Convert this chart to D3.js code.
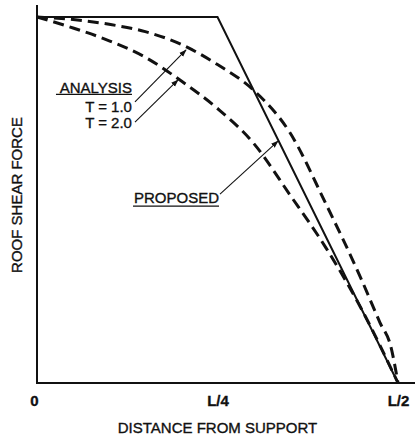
<!DOCTYPE html>
<html>
<head>
<meta charset="utf-8">
<script src="https://cdn.jsdelivr.net/npm/d3@7"></script>
<style>
    body { margin: 0; background: #fff; }
    text { font-family: "Liberation Sans", Arial, Helvetica, sans-serif; fill: #111; stroke: #111; stroke-width: 0.35; }
</style>
</head>
<body>
<svg id="chart" width="415" height="441"></svg>
<script>
// Distance from support, in units of L
var proposedX = [0, 0.25, 0.5];
var proposedY = [1, 1, 0];

var t1X = [0, 0.05, 0.1, 0.15, 0.2, 0.25, 0.3, 0.35, 0.4, 0.45, 0.475, 0.49, 0.5];
var t1Y = [1, 0.993, 0.98, 0.96, 0.925, 0.87, 0.80, 0.685, 0.49, 0.28, 0.165, 0.10, 0];

var t2X = [0, 0.05, 0.1, 0.15, 0.2, 0.25, 0.3, 0.35, 0.4, 0.45, 0.5];
var t2Y = [1, 0.97, 0.935, 0.89, 0.825, 0.75, 0.655, 0.515, 0.37, 0.2, 0];

var tickValues = [0, 0.25, 0.5];
var tickLabels = ['0', 'L/4', 'L/2'];

// Annotation arrows: start / end in data units
var notes = [
    { from: [0.1357, 0.768], to: [0.2064, 0.91] },
    { from: [0.1357, 0.713], to: [0.1953, 0.828] },
    { from: [0.2535, 0.516], to: [0.3338, 0.661] }
];

function zip(xs, ys) {
    var result = [];
    for (var i = 0; i < xs.length; i++) result.push([xs[i], ys[i]]);
    return result;
}

function draw() {
    var svg = d3.select('#chart');
    var x = d3.scaleLinear().domain([0, 0.5]).range([37, 398]);
    var y = d3.scaleLinear().domain([0, 1]).range([383, 17]);

    // Arrow head
    svg.append('defs').append('marker')
        .attr('id', 'head').attr('viewBox', '0 0 10 10')
        .attr('refX', 9).attr('refY', 5)
        .attr('markerWidth', 7).attr('markerHeight', 7)
        .attr('orient', 'auto')
        .append('path').attr('d', 'M0,1.5L10,5L0,8.5Z').attr('fill', '#111');

    // Axes
    var xAxis = d3.axisBottom(x).tickValues(tickValues).tickSize(0).tickPadding(12)
        .tickFormat(function (d, i) { return tickLabels[i]; });
    var gx = svg.append('g').attr('transform', 'translate(0,' + y(0) + ')').call(xAxis);
    gx.select('.domain').remove();
    gx.selectAll('text').attr('font-size', 15).attr('font-weight', 'bold')
        .attr('font-family', '"Liberation Sans", Arial, sans-serif').attr('fill', '#111');
    gx.selectAll('.tick').filter(function (d) { return d === 0; }).select('text').attr('dx', -3);

    svg.append('line').attr('x1', x(0)).attr('x2', 415).attr('y1', y(0)).attr('y2', y(0))
        .attr('stroke', '#111').attr('stroke-width', 2);
    svg.append('line').attr('x1', x(0)).attr('x2', x(0)).attr('y1', y(0) + 1).attr('y2', 5)
        .attr('stroke', '#111').attr('stroke-width', 2);

    svg.append('text').attr('x', x(0.25)).attr('y', 433).attr('text-anchor', 'middle')
        .attr('font-size', 15).text('DISTANCE FROM SUPPORT');
    svg.append('text').attr('transform', 'translate(22,195) rotate(-90)')
        .attr('text-anchor', 'middle').attr('font-size', 15).text('ROOF SHEAR FORCE');

    // Curves
    var line = d3.line().x(function (d) { return x(d[0]); }).y(function (d) { return y(d[1]); });
    var curve = d3.line().curve(d3.curveMonotoneX)
        .x(function (d) { return x(d[0]); }).y(function (d) { return y(d[1]); });

    svg.append('path').datum(zip(t1X, t1Y)).attr('d', curve)
        .attr('fill', 'none').attr('stroke', '#111').attr('stroke-width', 3)
        .attr('stroke-dasharray', '11,6');
    svg.append('path').datum(zip(t2X, t2Y)).attr('d', curve)
        .attr('fill', 'none').attr('stroke', '#111').attr('stroke-width', 3)
        .attr('stroke-dasharray', '11,6');
    svg.append('path').datum(zip(proposedX, proposedY)).attr('d', line)
        .attr('fill', 'none').attr('stroke', '#111').attr('stroke-width', 2);

    // Arrows
    svg.selectAll('.note').data(notes).enter().append('line')
        .attr('x1', function (d) { return x(d.from[0]); })
        .attr('y1', function (d) { return y(d.from[1]); })
        .attr('x2', function (d) { return x(d.to[0]); })
        .attr('y2', function (d) { return y(d.to[1]); })
        .attr('stroke', '#111').attr('stroke-width', 1.1)
        .attr('marker-end', 'url(#head)');

    // Labels
    var ax = x(notes[0].from[0]) - 3;
    svg.append('text').attr('x', ax).attr('y', y(notes[0].from[1]) - 9)
        .attr('text-anchor', 'end').attr('font-size', 15).text('ANALYSIS');
    svg.append('line').attr('x1', ax - 76).attr('x2', ax).attr('y1', y(notes[0].from[1]) - 7.5)
        .attr('y2', y(notes[0].from[1]) - 7.5).attr('stroke', '#111').attr('stroke-width', 1.3);
    svg.append('text').attr('x', ax).attr('y', y(notes[0].from[1]) + 10)
        .attr('text-anchor', 'end').attr('font-size', 15).text('T = 1.0');
    svg.append('text').attr('x', ax).attr('y', y(notes[1].from[1]) + 6)
        .attr('text-anchor', 'end').attr('font-size', 15).text('T = 2.0');

    var px = x(notes[2].from[0]) - 1;
    svg.append('text').attr('x', px).attr('y', y(notes[2].from[1]) + 9)
        .attr('text-anchor', 'end').attr('font-size', 15).text('PROPOSED');
    svg.append('line').attr('x1', px - 86).attr('x2', px).attr('y1', y(notes[2].from[1]) + 12)
        .attr('y2', y(notes[2].from[1]) + 12).attr('stroke', '#111').attr('stroke-width', 1.3);
}

draw();
</script>
</body>
</html>
